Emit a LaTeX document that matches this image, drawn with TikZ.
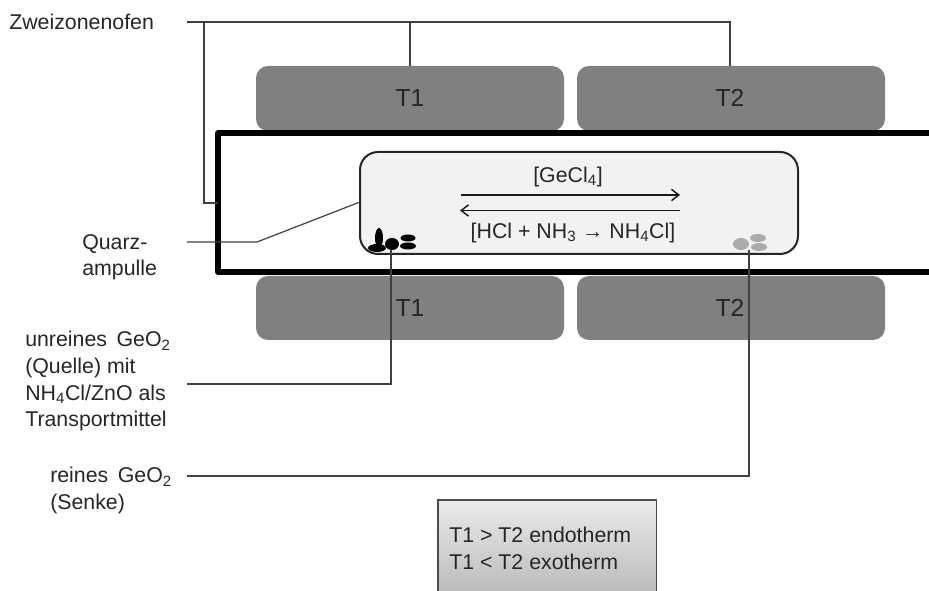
\documentclass[tikz,border=0pt]{standalone}
\usepackage{fontspec}
\setmainfont{Liberation Sans}
\usetikzlibrary{arrows.meta}
\definecolor{txt}{HTML}{262626}
\tikzset{
  heater/.style={fill=#1,rounded corners=9,inner sep=0,outer sep=0},
  lead/.style={draw=black!75,line width=0.9pt},
  lab/.style={align=left,anchor=north west,inner sep=0,text=txt,font=\fontsize{16}{20}\selectfont},
  tlab/.style={text=txt,font=\fontsize{18.5}{20}\selectfont,inner sep=0},
  form/.style={text=txt,font=\fontsize{16}{20}\selectfont,inner sep=0},
  flow/.style={draw=black!90,line width=1.1pt,-{Straight Barb[length=5.5pt,width=8.5pt]}},
  grainA/.style={fill=black,draw=none},
  grainB/.style={fill=black!33,draw=none},
}
\begin{document}
\begin{tikzpicture}[x=0.75pt,y=-0.75pt]
\useasboundingbox (0,0) rectangle (929,591);
% heaters
\node[heater=black!50,minimum width=231pt,minimum height=48.75pt,anchor=north west] (h1) at (256,66) {};
\node[heater=black!50,minimum width=231pt,minimum height=48.75pt,anchor=north west] (h2) at (577,66) {};
\node[heater=black!50,minimum width=231pt,minimum height=48pt,anchor=north west] (h3) at (256,276) {};
\node[heater=black!50,minimum width=231pt,minimum height=48pt,anchor=north west] (h4) at (577,276) {};
\node[tlab] at (410,98) {T1};
\node[tlab] at (730,98) {T2};
\node[tlab] at (410,308) {T1};
\node[tlab] at (730,308) {T2};
% tube
\coordinate (tubeTR) at (929,133);
\coordinate (tubeTL) at (218,133);
\coordinate (tubeBL) at (218,272);
\coordinate (tubeBR) at (929,272);
\draw[line width=4.1pt,line join=round] (tubeTR) -- (tubeTL) -- (tubeBL) -- (tubeBR);
% ampoule
\node[draw=black!85,fill=black!5,line width=1.5pt,rounded corners=13.5,outer sep=0,minimum width=328.5pt,minimum height=76.5pt,anchor=north west,inner sep=0] (amp) at (360,152) {};
% flow arrows
\coordinate (fa1) at (461,195);
\coordinate (fa2) at (680,195);
\coordinate (fb1) at (680,210.5);
\coordinate (fb2) at (460,210.5);
\draw[flow] (fa1) -- (fa2);
\draw[flow] (fb1) -- (fb2);
\node[form] at (568,177) {[GeCl\textsubscript{4}]};
\node[form] at (573,233) {[HCl + NH\textsubscript{3} → NH\textsubscript{4}Cl]};
% labels
\node[lab] (zw) at (9,14) {Zweizonenofen};
\node[lab] (qa) at (82,234) {Quarz-\\ampulle};
\node[lab] (ug) at (25,331) {unreines\, GeO\textsubscript{2}\\(Quelle) mit\\NH\textsubscript{4}Cl/ZnO als\\Transportmittel};
\node[lab] (rg) at (50,467) {reines\, GeO\textsubscript{2}\\(Senke)};
% leaders
\coordinate (zs) at (187,22);
\coordinate (zj) at (204,22);
\coordinate (z1) at (410,22);
\coordinate (z2) at (730,22);
\coordinate (tubeJ) at (218,203);
\draw[lead] (zs) -- (z2) -- (h2.north -| z2);
\draw[lead] (z1) -- (h1.north -| z1);
\draw[lead] (zj) |- (tubeJ);
\coordinate (qs) at (187,242);
\coordinate (qk) at (257,242);
\coordinate (qe) at (360,202);
\draw[lead] (qs) -- (qk) -- (qe);
\coordinate (us) at (187,384);
\coordinate (uk) at (391,384);
\coordinate (ue) at (391,250);
\draw[lead] (us) -- (uk) -- (ue);
\coordinate (rs) at (187,476);
\coordinate (rk) at (749,476);
\coordinate (re) at (749,250);
\draw[lead] (rs) -- (rk) -- (re);
% source grains
\fill[grainA] (379,238) ellipse (4 and 10);
\fill[grainA] (377,248) ellipse (9 and 4);
\fill[grainA] (392,244) ellipse (7 and 6);
\fill[grainA] (408,238) ellipse (7.5 and 3.5);
\fill[grainA] (408,246) ellipse (8 and 3.5);
% sink grains
\fill[grainB] (741,244) ellipse (8 and 6);
\fill[grainB] (758,238) ellipse (8 and 4);
\fill[grainB] (759,247) ellipse (8 and 4);
% legend
\begin{scope}
\clip (430,490) rectangle (670,591);
\node[draw=black!70,line width=0.9pt,top color=black!8,bottom color=black!27,outer sep=0,minimum width=164pt,minimum height=72pt,anchor=north west,inner sep=0] (leg) at (438,500) {};
\end{scope}
\node[lab,anchor=north west] at (449,527) {T1 > T2 endotherm\\T1 < T2 exotherm};
\end{tikzpicture}
\end{document}
